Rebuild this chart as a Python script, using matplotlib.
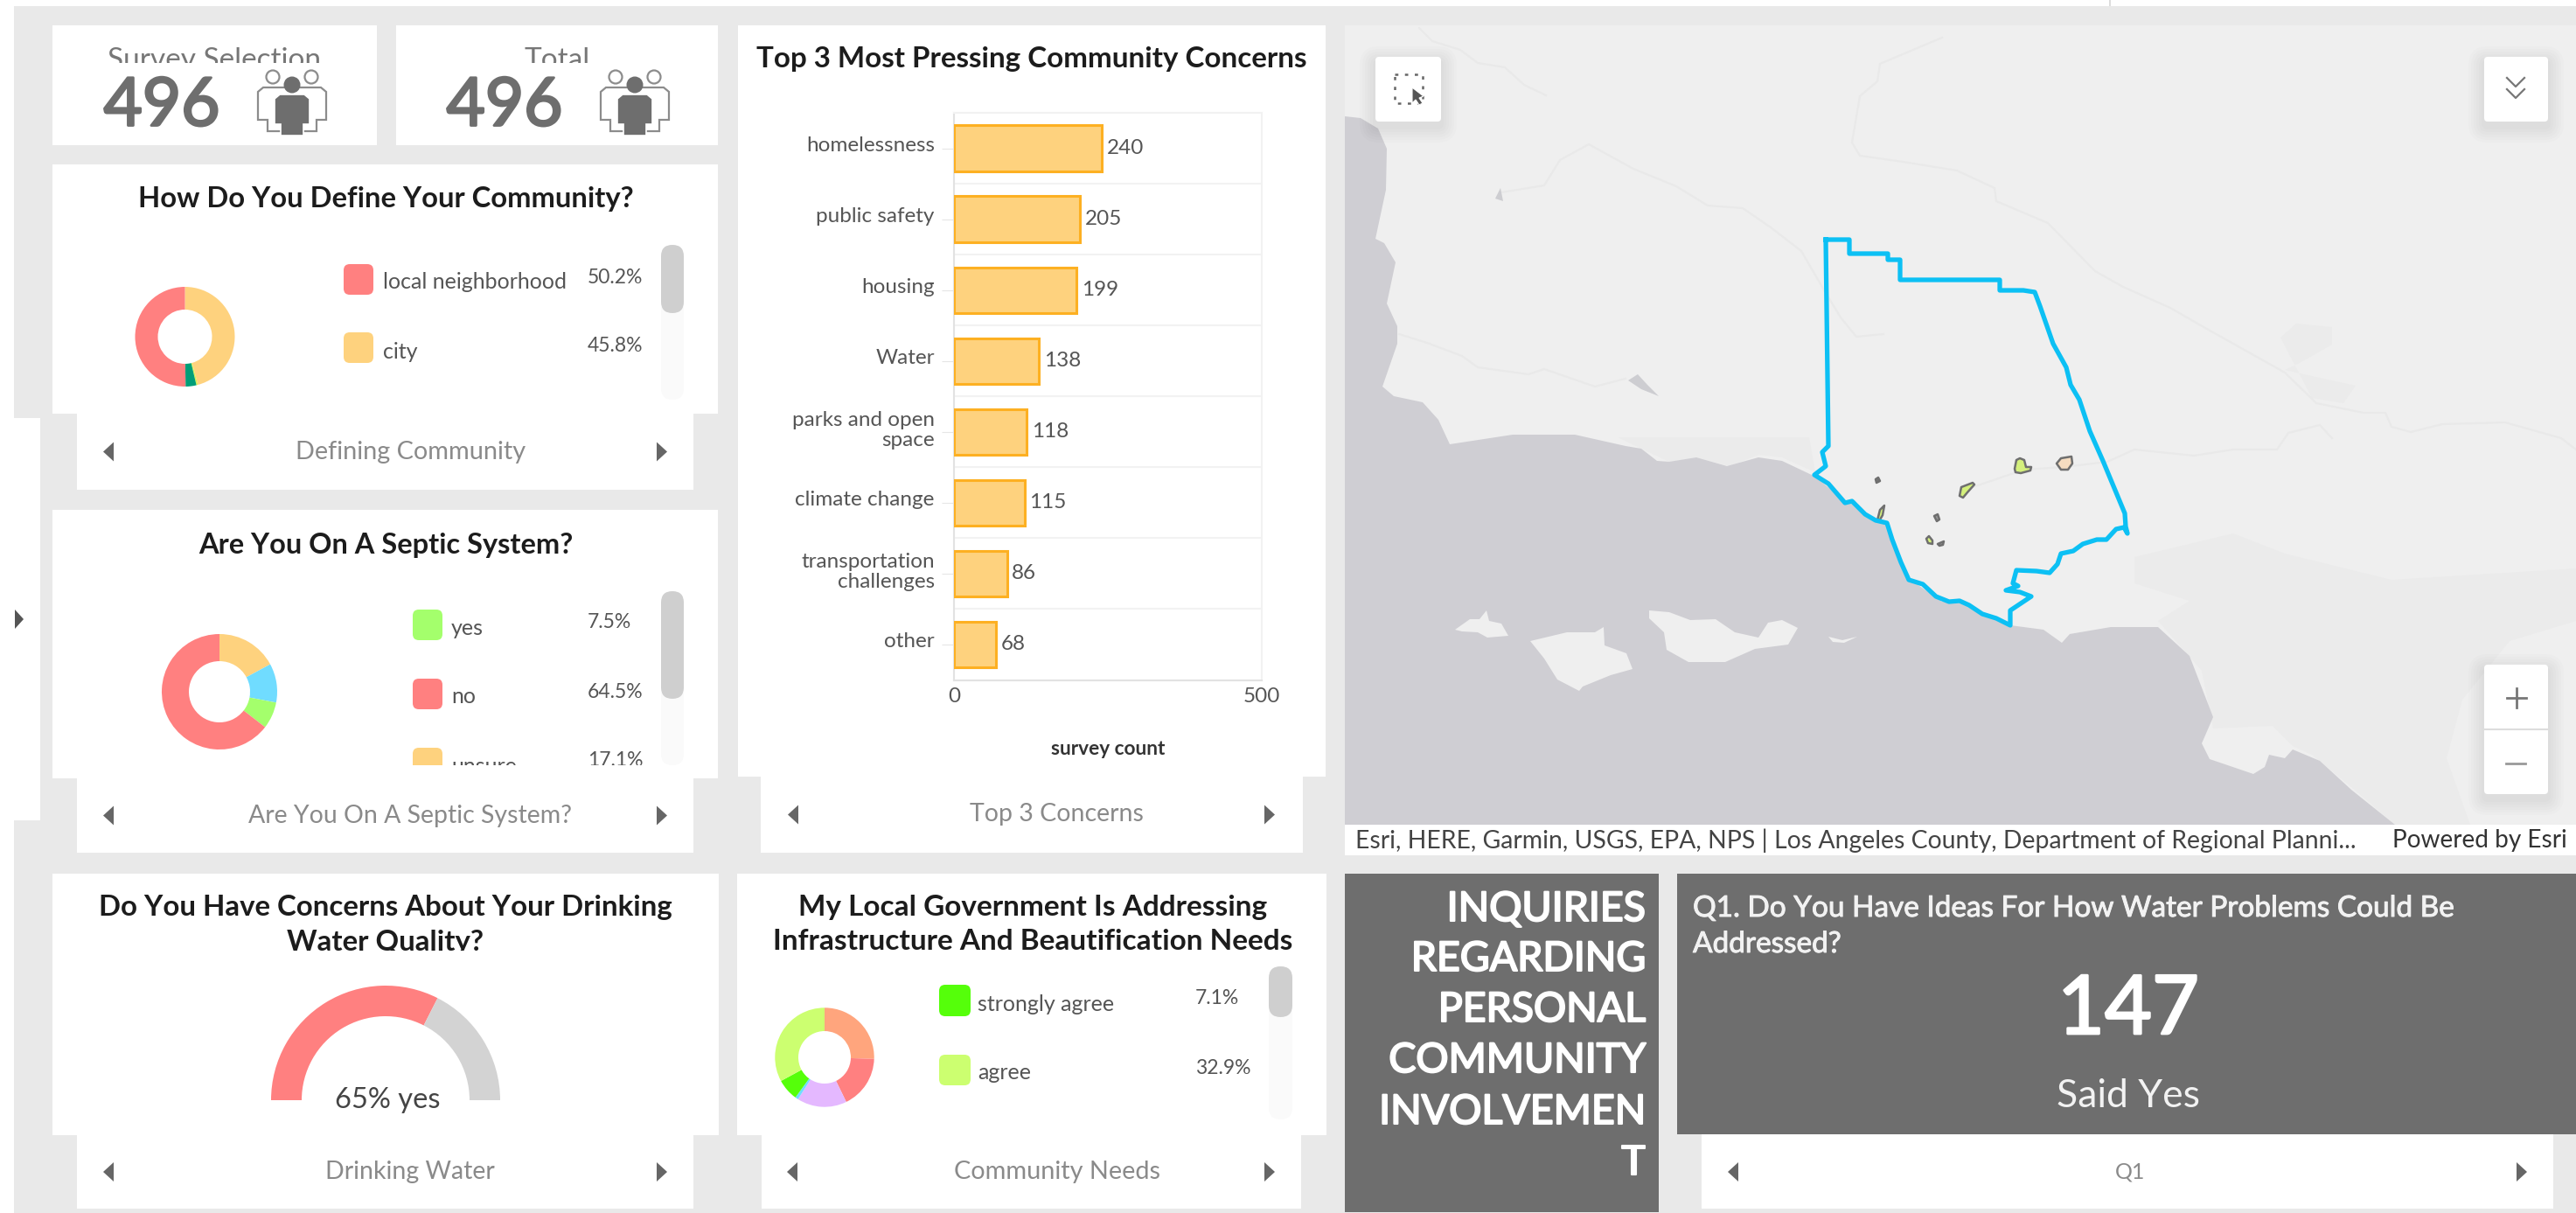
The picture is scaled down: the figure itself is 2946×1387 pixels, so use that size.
import numpy as np
import matplotlib
matplotlib.use("Agg")
import matplotlib.pyplot as plt
import matplotlib.patheffects as pe
from matplotlib.patches import Circle, FancyBboxPatch, Polygon, Rectangle
from matplotlib.transforms import ScaledTranslation

W, H = 2946, 1387

# chart data
define_labels = ["city", "other a", "other b", "local neighborhood"]
define_values = [45.8, 0.5, 3.5, 50.2]
define_colors = ["#fed27e", "#d8f050", "#009e78", "#ff8080"]

septic_labels = ["unsure", "other", "yes", "no"]
septic_values = [17.1, 10.9, 7.5, 64.5]
septic_colors = ["#fed27e", "#70dcff", "#a4ff6c", "#ff8080"]

needs_labels = ["neutral", "disagree", "strongly disagree", "unsure",
                "strongly agree", "agree"]
needs_values = [25.5, 17.3, 16.2, 1.0, 7.1, 32.9]
needs_colors = ["#ffa57d", "#ff8080", "#e4b8ff", "#70dcff", "#55ff0a", "#ccff70"]

gauge_yes = 65
gauge_no = 35

concern_labels = ["homelessness", "public safety", "housing", "Water",
                  "parks and open\nspace", "climate change",
                  "transportation\nchallenges", "other"]
concern_counts = [240, 205, 199, 138, 118, 115, 86, 68]

total_responses = 496
said_yes = 147

# map shapes, traced in screenshot pixels
county_x = [2088, 2115, 2115, 2159, 2159, 2173, 2173, 2287, 2287, 2314, 2327, 2333, 2348, 2363,
            2368, 2378, 2390, 2405, 2420, 2430, 2431, 2433, 2429, 2420, 2409, 2398, 2382,
            2371, 2357, 2353, 2344, 2329, 2306, 2302, 2308, 2294, 2310, 2323, 2299, 2299,
            2283, 2267, 2252, 2241, 2229, 2214, 2199, 2183, 2174, 2164, 2158, 2145, 2133,
            2118, 2110, 2091, 2075, 2088, 2084, 2091, 2088]
county_y = [274, 274, 290, 290, 297, 297, 320, 320, 332, 332, 334, 350, 393, 420,
            440, 457, 493, 527, 563, 587, 602, 610, 603, 605, 617, 617, 622,
            630, 633, 645, 655, 653, 652, 667, 670, 675, 677, 682, 698, 715,
            707, 702, 692, 687, 688, 682, 668, 663, 643, 617, 598, 595, 588,
            573, 575, 553, 543, 533, 517, 510, 274]

water_x = [1538, 1556, 1576, 1586, 1585, 1573, 1583, 1596, 1586, 1598, 1598, 1581, 1594, 1627,
           1645, 1658, 1730, 1801, 1859, 1877, 1895, 1909, 1940, 1975, 2011, 2038, 2076,
           2112, 2121, 2134, 2156, 2172, 2185, 2221, 2238, 2270, 2299, 2337, 2358, 2367,
           2414, 2468, 2504, 2531, 2518, 2527, 2577, 2590, 2595, 2613, 2622, 2653, 2689,
           2739, 1538]
water_y = [133, 135, 147, 170, 217, 273, 278, 300, 347, 373, 393, 442, 453, 460,
           480, 508, 497, 497, 510, 513, 527, 528, 523, 533, 523, 527, 545,
           575, 572, 590, 595, 640, 663, 688, 685, 703, 715, 720, 735, 725,
           717, 717, 750, 820, 850, 868, 885, 877, 863, 867, 857, 870, 903,
           943, 943]

islands = [
    [(1664, 720), (1681, 708), (1692, 708), (1700, 698), (1703, 710), (1717, 713), (1725, 727),
     (1701, 729), (1690, 723), (1672, 722)],
    [(1750, 733), (1792, 723), (1824, 723), (1834, 717), (1835, 738), (1860, 747), (1867, 765),
     (1842, 772), (1810, 785), (1806, 790), (1781, 777), (1766, 753)],
    [(1886, 698), (1909, 700), (1933, 709), (1962, 708), (1984, 723), (2011, 729), (2022, 712),
     (2038, 709), (2056, 718), (2045, 737), (2007, 742), (1973, 757), (1931, 757), (1906, 743),
     (1903, 723), (1886, 707)],
    [(2091, 728), (2107, 732), (2124, 728), (2109, 735), (2096, 734)],
]

county_lines = [
    [(1623, 32), (1638, 47), (1670, 57), (1690, 72), (1721, 77), (1743, 97), (1768, 109)],
    [(1717, 220), (1766, 212), (1784, 183), (1817, 165), (1868, 193), (1917, 213), (1953, 235),
     (1993, 238), (2025, 260), (2060, 287), (2085, 330), (2105, 363), (2123, 385), (2154, 382)],
    [(1600, 382), (1632, 392), (1672, 407), (1690, 420), (1748, 428), (1766, 422), (1824, 442),
     (1859, 433)],
    [(2221, 43), (2150, 73), (2147, 93), (2127, 110), (2118, 163), (2127, 178), (2176, 185),
     (2238, 195), (2281, 215), (2283, 230), (2342, 255), (2396, 310), (2428, 328), (2482, 352),
     (2522, 375), (2613, 426), (2649, 461), (2703, 472), (2728, 472), (2735, 488), (2757, 494),
     (2793, 485), (2865, 483), (2929, 501), (2946, 514)],
    [(2256, 557), (2315, 537), (2360, 534), (2410, 528), (2441, 514), (2509, 521), (2554, 514),
     (2604, 514), (2617, 495), (2653, 486), (2667, 501)],
]

lakes = [
    [(1710, 227), (1716, 215), (1719, 230)],
    [(1862, 435), (1873, 428), (1884, 440), (1897, 453), (1877, 445)],
]

urban_patches = [
    # basin around Los Angeles
    [(2441, 637), (2554, 610), (2613, 633), (2735, 663), (2946, 650), (2946, 710), (2870, 733),
     (2816, 800), (2798, 867), (2825, 943), (2739, 943), (2689, 900), (2644, 863), (2622, 853),
     (2599, 830), (2531, 833), (2518, 767), (2468, 710), (2504, 687), (2441, 667)],
    # Ventura foothills
    [(1850, 500), (2069, 500), (2076, 540), (2038, 523), (2011, 520), (1978, 533), (1940, 523),
     (1909, 528), (1877, 513)],
    # Lancaster and Palmdale
    [(2608, 386), (2626, 370), (2667, 374), (2667, 394), (2628, 416), (2613, 423), (2644, 430),
     (2694, 441), (2680, 461), (2644, 455)],
]

tracts = [
    ("#d4f07c", [(2304, 536), (2306, 526), (2310, 524), (2315, 526), (2317, 534), (2323, 534),
                 (2322, 538), (2311, 541), (2305, 540)]),
    ("#f5dcc0", [(2352, 530), (2357, 524), (2369, 522), (2370, 530), (2365, 537), (2357, 537)]),
    ("#d4f07c", [(2241, 567), (2243, 557), (2256, 552), (2258, 554), (2250, 563), (2245, 569)]),
    ("#777777", [(2145, 548), (2148, 546), (2150, 550), (2146, 552)]),
    ("#d4f07c", [(2147, 595), (2150, 583), (2155, 578), (2153, 589), (2149, 596)]),
    ("#999999", [(2212, 590), (2216, 588), (2218, 594), (2215, 596)]),
    ("#d4f07c", [(2203, 616), (2206, 613), (2210, 618), (2210, 622), (2205, 621)]),
    ("#999999", [(2216, 622), (2223, 619), (2222, 623), (2218, 624)]),
]

BG = "#e9e9e9"
DARK = "#6e6e6e"
INK = "#1c1c1c"
MUTED = "#8a8a8a"
TEXT = "#555555"

plt.rcParams["font.family"] = ["Lato", "DejaVu Sans"]

fig = plt.figure(figsize=(W / 100, H / 100), dpi=100, facecolor="white")
base = fig.add_axes([0, 0, 1, 1])
base.set_xlim(0, W)
base.set_ylim(H, 0)
base.axis("off")


def box(x0, y0, x1, y1, color="white", zorder=1, **kw):
    base.add_patch(Rectangle((x0, y0), x1 - x0, y1 - y0, fc=color, ec="none",
                             zorder=zorder, **kw))


def txt(x, y, s, size, color=TEXT, ha="center", va="center", weight="normal", clip=None,
        heavy=0):
    t = base.text(x, y, s, fontsize=size, color=color, ha=ha, va=va, weight=weight, zorder=6)
    if heavy:
        t.set_path_effects([pe.withStroke(linewidth=heavy, foreground=color)])
    if clip:
        x0, y0, x1, y1 = clip
        t.set_clip_path(Rectangle((x0, y0), x1 - x0, y1 - y0, transform=base.transData))
        t.set_clip_on(True)
    return t


def arrows(xl, xr, y):
    for x, d in ((xl, -1), (xr, 1)):
        base.add_patch(Polygon([(x - 6 * d, y - 11), (x + 6 * d, y), (x - 6 * d, y + 11)],
                               fc="#666666", ec="none", zorder=6))


def footer(x0, x1, y0, y1, label, cx, xl, xr, size=20.5):
    box(x0, y0, x1, y1)
    txt(cx, (y0 + y1) / 2, label, size, MUTED)
    arrows(xl, xr, (y0 + y1) / 2)


def swatch(x0, y0, x1, y1, color, clip_y=None):
    p = FancyBboxPatch((x0 + 7, y0 + 7), x1 - x0 - 14, y1 - y0 - 14,
                       boxstyle="round,pad=7,rounding_size=7", fc=color, ec="none", zorder=5)
    base.add_patch(p)
    if clip_y:
        p.set_clip_path(Rectangle((x0 - 5, y0 - 5), x1 - x0 + 10, clip_y - y0 + 5,
                                  transform=base.transData))


def scrollbar(x0, x1, y0, y1, thumb_y):
    for top, bot, color in ((y0, y1, "#fafafa"), (y0, thumb_y, "#cfcfcf")):
        r = (x1 - x0) / 2
        base.add_patch(FancyBboxPatch((x0 + r, top + r), 0.01, bot - top - 2 * r,
                                      boxstyle=f"round,pad={r - 0.01},rounding_size={r - 0.01}",
                                      fc=color, ec="none", zorder=5))


def pix_axes(x0, y0, x1, y1):
    return fig.add_axes([x0 / W, 1 - y1 / H, (x1 - x0) / W, (y1 - y0) / H])


def donut(cx, cy, r, r_in, values, colors):
    ax = pix_axes(cx - r, cy - r, cx + r, cy + r)
    ax.pie(values, colors=colors, startangle=90, counterclock=False, radius=1,
           wedgeprops={"width": 1 - r_in / r, "linewidth": 0})
    ax.set_xlim(-1, 1)
    ax.set_ylim(-1, 1)


def gauge(cx, cy, r, r_in, yes, no):
    ax = pix_axes(cx - r, cy - r, cx + r, cy + r)
    wedges, _ = ax.pie([yes, no, yes + no], colors=["#ff8080", "#d3d3d3", "none"],
                       startangle=180, counterclock=False, radius=1,
                       wedgeprops={"width": 1 - r_in / r, "linewidth": 0})
    wedges[2].set_visible(False)
    ax.set_xlim(-1, 1)
    ax.set_ylim(-1, 1)


def people_icon(cx):
    """Three person pictogram of the KPI cards."""
    for dx in (-22, 22):
        base.add_patch(Circle((cx + dx, 88), 7.5, fc="white", ec="#8c8c8c", lw=1.6, zorder=5))
    base.add_patch(Polygon([(cx - 39, 137), (cx - 39, 105), (cx - 33, 100), (cx + 33, 100),
                            (cx + 39, 105), (cx + 39, 137), (cx + 28, 137), (cx + 28, 150),
                            (cx - 28, 150), (cx - 28, 137)],
                           fc="white", ec="#8c8c8c", lw=1.6, zorder=5))
    base.add_patch(Circle((cx, 97), 9.5, fc=DARK, ec="none", zorder=6))
    base.add_patch(Polygon([(cx - 20, 142), (cx - 20, 113), (cx - 14, 108), (cx + 14, 108),
                            (cx + 20, 113), (cx + 20, 142), (cx + 13, 142), (cx + 13, 155),
                            (cx - 13, 155), (cx - 13, 142)],
                           fc=DARK, ec="white", lw=1.2, zorder=6))


def draw_kpis():
    box(60, 29, 431, 166)
    box(453, 29, 821, 166)
    txt(245, 69, "Survey Selection", 24, "#777777", clip=(60, 40, 431, 72))
    txt(637, 69, "Total", 24, "#777777", clip=(453, 40, 821, 72))
    txt(185, 122, str(total_responses), 55, DARK, heavy=2)
    txt(577, 122, str(total_responses), 55, DARK, heavy=2)
    people_icon(334)
    people_icon(726)


def draw_define():
    box(60, 188, 821, 473)
    txt(441, 227, "How Do You Define Your Community?", 23.6, INK, weight="bold")
    donut(211.5, 385, 57, 31, define_values, define_colors)
    swatch(393, 302, 427, 337, "#ff8080")
    txt(438, 322, "local neighborhood", 18, ha="left")
    txt(672, 317, "50.2%", 16.5, ha="left")
    swatch(393, 380, 427, 415, "#fed27e")
    txt(438, 402, "city", 18, ha="left")
    txt(672, 396, "45.8%", 16.5, ha="left")
    scrollbar(756, 782, 280, 457, 358)
    footer(88, 793, 473, 560, "Defining Community", 470, 124, 757, 20.8)


def draw_septic():
    box(60, 583, 821, 890)
    txt(441, 623, "Are You On A Septic System?", 23.4, INK, weight="bold")
    donut(251, 791, 66, 35, septic_values, septic_colors)
    swatch(472, 697, 506, 732, "#a4ff6c")
    txt(516, 718, "yes", 18, ha="left")
    txt(672, 712, "7.5%", 16.5, ha="left")
    swatch(472, 776, 506, 811, "#ff8080")
    txt(516, 797, "no", 18, ha="left")
    txt(672, 791, "64.5%", 16.5, ha="left")
    swatch(472, 855, 506, 890, "#fed27e", clip_y=875)
    txt(516, 877, "unsure", 18, ha="left", clip=(500, 855, 700, 875))
    txt(672, 870, "17.1%", 16.5, ha="left", clip=(660, 855, 750, 875))
    scrollbar(756, 782, 676, 875, 799)
    footer(88, 793, 890, 975, "Are You On A Septic System?", 469, 124, 757)


def draw_concerns():
    box(844, 29, 1516, 888)
    txt(1180, 68, "Top 3 Most Pressing Community Concerns", 23.9, INK, weight="bold")
    ax = pix_axes(1091, 129, 1443, 777.5)
    ypos = np.arange(len(concern_counts))
    bars = ax.barh(ypos, concern_counts, height=0.645, color="#fed27e", edgecolor="#fdb022",
                   linewidth=2.2, zorder=3)
    ax.bar_label(bars, labels=[str(v) for v in concern_counts], padding=4, fontsize=17.5,
                 color=TEXT)
    ax.set_xlim(0, 500)
    ax.set_ylim(len(concern_counts) - 0.5, -0.5)
    ax.patch.set_alpha(0)
    for side in ("top", "right"):
        ax.spines[side].set_color("#f2f2f2")
    for side in ("left", "bottom"):
        ax.spines[side].set_color("#e2e2e2")
    for spine in ax.spines.values():
        spine.set_linewidth(1.5)
    ax.set_yticks(ypos, concern_labels, fontsize=17.5, color=TEXT, linespacing=1.15)
    ax.set_yticks(ypos[:-1] + 0.5, minor=True)
    ax.grid(True, which="minor", axis="y", color="#f2f2f2", lw=1.5)
    ax.tick_params(axis="y", which="minor", length=0)
    ax.tick_params(axis="y", which="major", length=10, color="#e6e6e6", pad=6)
    shift = ScaledTranslation(0, 5 / 100, fig.dpi_scale_trans)
    for label in ax.get_yticklabels():
        label.set_transform(label.get_transform() + shift)
    ax.set_xticks([0, 500], ["0", "500"], fontsize=17.5, color=TEXT)
    ax.tick_params(axis="x", length=0, pad=6)
    ax.set_xlabel("survey count", fontsize=16.3, weight="bold", color="#333333", labelpad=28)
    footer(870, 1490, 888, 975, "Top 3 Concerns", 1208, 907, 1452)


def button(x0, y0, x1, y1):
    """White map button with a soft shadow."""
    for grow in range(18, 0, -3):
        base.add_patch(FancyBboxPatch((x0, y0 + 6), x1 - x0, y1 - y0,
                                      boxstyle=f"round,pad={grow},rounding_size={grow + 4}",
                                      fc="#000000", ec="none", alpha=0.012, zorder=3))
    base.add_patch(FancyBboxPatch((x0 + 4, y0 + 4), x1 - x0 - 8, y1 - y0 - 8,
                                  boxstyle="round,pad=4,rounding_size=4", fc="white", ec="none",
                                  zorder=4))


def draw_map():
    box(1538, 29, W, 943, "#efefef")
    for patch in urban_patches:
        base.add_patch(Polygon(patch, fc="#ebebeb", ec="none", zorder=2))
    for line in county_lines:
        x, y = zip(*line)
        base.plot(x, y, color="#e9e9e9", lw=1.6, zorder=2)
    for lake in lakes:
        base.add_patch(Polygon(lake, fc="#cdcdd1", ec="none", zorder=2))
    base.add_patch(Polygon(list(zip(water_x, water_y)), fc="#cfced3", ec="none", zorder=2))
    for isl in islands:
        base.add_patch(Polygon(isl, fc="#efefef", ec="none", zorder=2))
    for color, pts in tracts:
        base.add_patch(Polygon(pts, fc=color, ec="#6f6f6f", lw=1.8, joinstyle="round", zorder=3))
    base.plot(county_x, county_y, color="#0cc0f4", lw=3.8, solid_joinstyle="round", zorder=3)

    # map widgets
    button(1573, 65, 1648, 139)
    button(2841, 65, 2914, 139)
    button(2841, 760, 2914, 908)
    base.add_patch(Rectangle((1595, 85), 32, 33, fc="none", ec="#666666", lw=1.8, ls=(0, (1.5, 3)),
                             zorder=5))
    base.add_patch(Polygon([(1615, 100), (1615, 118), (1619, 114), (1623, 120), (1627, 118),
                            (1623, 112), (1628, 110)], fc="#555555", ec="white", lw=0.8, zorder=6))
    for yc in (94, 107):
        base.plot([2867, 2877, 2887], [yc - 5, yc + 5, yc - 5], color="#777777", lw=1.6, zorder=5)
    base.plot([2842, 2913], [834, 834], color="#dddddd", lw=1.5, zorder=5)
    base.plot([2867, 2889], [798, 798], color="#777777", lw=2, zorder=5)
    base.plot([2878, 2878], [787, 809], color="#777777", lw=2, zorder=5)
    base.plot([2866, 2888], [873, 873], color="#999999", lw=2, zorder=5)

    box(1538, 943, W, 978)
    txt(1550, 961, "Esri, HERE, Garmin, USGS, EPA, NPS | Los Angeles County, "
        "Department of Regional Planni...", 20.4, "#444444", ha="left")
    txt(2936, 961, "Powered by Esri", 20.2, "#333333", ha="right")


def draw_water_card():
    box(60, 999, 822, 1298)
    txt(441, 1037, "Do You Have Concerns About Your Drinking", 23.8, INK, weight="bold")
    txt(441, 1077, "Water Quality?", 23.8, INK, weight="bold", clip=(300, 1055, 600, 1087))
    gauge(441, 1258, 131, 96, gauge_yes, gauge_no)
    txt(443, 1258, f"{gauge_yes}% yes", 23.5, "#444444")
    footer(88, 793, 1298, 1382, "Drinking Water", 469, 124, 757)


def draw_needs_card():
    box(843, 999, 1517, 1298)
    txt(1181, 1037, "My Local Government Is Addressing", 24, INK, weight="bold")
    txt(1181, 1077, "Infrastructure And Beautification Needs", 24, INK, weight="bold")
    donut(943, 1209, 56.7, 30, needs_values, needs_colors)
    swatch(1074, 1126, 1110, 1162, "#55ff0a")
    txt(1118, 1148, "strongly agree", 18, ha="left")
    txt(1367, 1142, "7.1%", 16.5, ha="left")
    swatch(1074, 1206, 1110, 1241, "#ccff70")
    txt(1118, 1227, "agree", 18, ha="left")
    txt(1367, 1221, "32.9%", 16.5, ha="left")
    scrollbar(1451, 1478, 1105, 1280, 1163)
    footer(871, 1488, 1298, 1382, "Community Needs", 1209, 906, 1452, 20.8)


def draw_dark_panels():
    box(1538, 999, 1897, 1386, DARK)
    lines = ["INQUIRIES", "REGARDING", "PERSONAL", "COMMUNITY", "INVOLVEMEN", "T"]
    for y, s in zip((1040, 1097, 1155, 1213, 1272, 1330), lines):
        txt(1882, y, s, 33.5, "white", ha="right", heavy=1.5)
    box(1918, 999, W, 1297, DARK)
    txt(1936, 1039, "Q1. Do You Have Ideas For How Water Problems Could Be", 24, "#f2f2f2",
        ha="left", heavy=0.7)
    txt(1936, 1080, "Addressed?", 24, "#f2f2f2", ha="left", heavy=0.7)
    txt(2434, 1156, str(said_yes), 67, "white", heavy=2)
    txt(2434, 1253, "Said Yes", 32, "#f2f2f2")
    box(1946, 1297, 2920, 1382)
    txt(2436, 1340, "Q1", 18, MUTED)
    arrows(1982, 2884, 1340)


def main():
    box(16, 7, W, H, BG, zorder=0)
    box(16, 478, 46, 938, "white", zorder=0)
    box(2412, 0, 2414, 7, "#dddddd", zorder=0)
    base.add_patch(Polygon([(17, 697), (27, 708), (17, 719)], fc="#555555", ec="none", zorder=6))

    draw_kpis()
    draw_define()
    draw_septic()
    draw_concerns()
    draw_map()
    draw_water_card()
    draw_needs_card()
    draw_dark_panels()

    fig.savefig("out.png", dpi=100)


if __name__ == "__main__":
    main()
